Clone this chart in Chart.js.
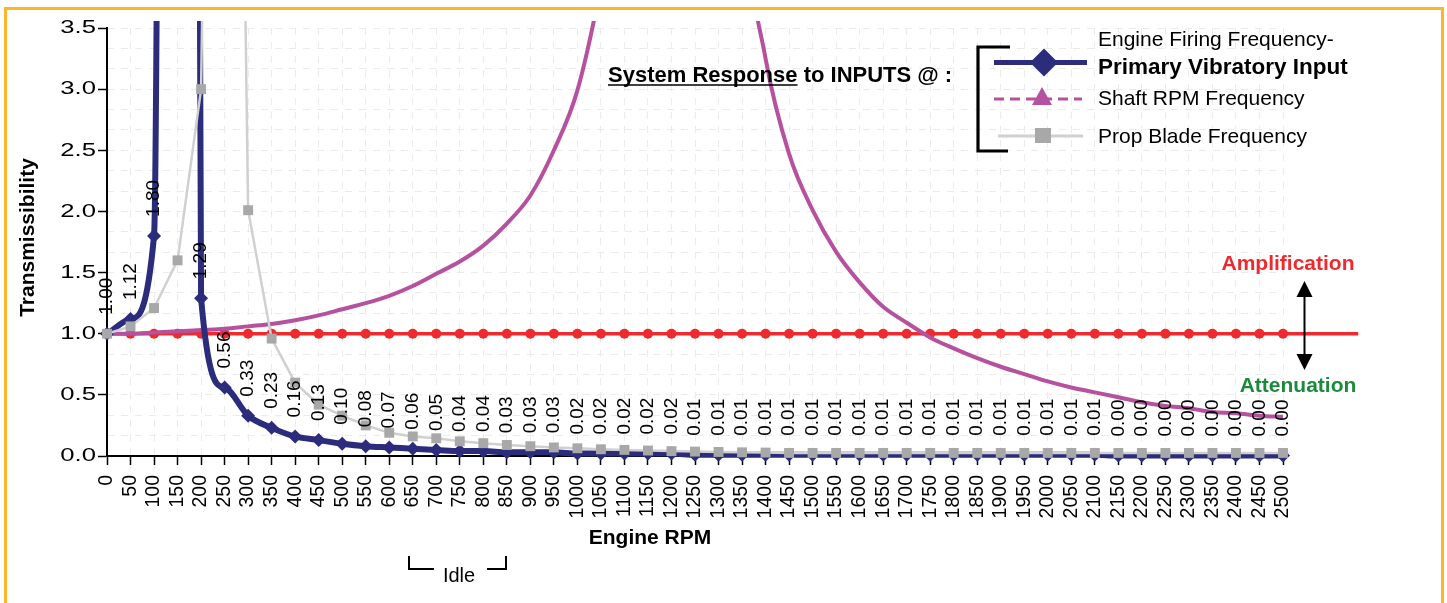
<!DOCTYPE html>
<html><head><meta charset="utf-8">
<script src="https://cdn.jsdelivr.net/npm/chart.js@4.4.1/dist/chart.umd.min.js"></script>
<style>
html,body{margin:0;padding:0;background:#fff;overflow:hidden;}
#wrap{position:relative;width:1447px;height:603px;}
#frame{position:absolute;left:4px;top:7px;width:1434px;height:620px;border:3px solid #FBB72C;}
canvas{position:absolute;left:0;top:0;}
</style></head><body>
<div id="wrap"><div id="frame"></div><canvas id="c" width="1447" height="603"></canvas></div>
<script>
// ---------- DATA ----------
const rpm = [0,50,100,150,200,250,300,350,400,450,500,550,600,650,700,750,800,850,900,950,
  1000,1050,1100,1150,1200,1250,1300,1350,1400,1450,1500,1550,1600,1650,1700,1750,1800,1850,1900,1950,
  2000,2050,2100,2150,2200,2250,2300,2350,2400,2450,2500];

// Engine Firing Frequency - Primary Vibratory Input (150 rpm is off the chart)
const engineFiring = [1.00,1.12,1.80,50,1.29,0.56,0.33,0.23,0.16,0.13,0.10,0.08,0.07,0.06,0.05,0.04,0.04,0.03,0.03,0.03,
  0.02,0.02,0.02,0.02,0.02,0.01,0.01,0.01,0.01,0.01,0.01,0.01,0.01,0.01,0.01,0.01,0.01,0.01,0.01,0.01,
  0.01,0.01,0.01,0.004,0.004,0.004,0.004,0.004,0.004,0.004,0.004];

// Shaft RPM Frequency (1050-1350 rpm are off the chart)
const shaftRpm = [1.00,1.00,1.01,1.02,1.03,1.04,1.06,1.08,1.11,1.15,1.20,1.25,1.31,1.39,1.49,1.59,1.72,1.90,2.13,2.50,
  2.99,3.85,5.0,7.5,15,25,8.5,4.6,3.25,2.47,2.01,1.67,1.42,1.22,1.09,0.97,0.88,0.80,0.73,0.67,
  0.61,0.56,0.52,0.48,0.44,0.41,0.39,0.36,0.35,0.33,0.32];

// Prop Blade Frequency (250 rpm is off the chart)
const propBlade = [1.00,1.06,1.21,1.60,3.00,16,2.01,0.96,0.60,0.42,0.33,0.25,0.19,0.16,0.145,0.12,0.105,0.09,0.08,0.07,
  0.063,0.055,0.05,0.045,0.04,0.036,0.033,0.03,0.028,0.025,0.025,0.025,0.025,0.025,0.025,0.025,0.025,0.025,0.025,0.025,
  0.025,0.025,0.025,0.025,0.025,0.025,0.025,0.025,0.025,0.025,0.025];

// Input reference level (transmissibility = 1.0)
const inputLevel = [1,1,1,1,1,1,1,1,1,1,1,1,1,1,1,1,1,1,1,1,1,1,1,1,1,1,1,1,1,1,1,1,1,1,1,1,1,1,1,1,1,1,1,1,1,1,1,1,1,1,1];
const inputLineEnd = 2660;

const yTickLabels = ['0.0','0.5','1.0','1.5','2.0','2.5','3.0','3.5'];
const legendLabels = ['Engine Firing Frequency-','Primary Vibratory Input','Shaft RPM Frequency','Prop Blade Frequency'];

// ---------- STYLE ----------
const FONT = '"Liberation Sans", Arial, Helvetica, sans-serif';
const NAVY = '#2B2C7C';
const PINK = '#B5519F';
const RED = '#EE2A2E';
const GRAYLINE = '#D0D0D0';
const GRAYPT = '#A8A8A8';
const GREEN = '#1C8A3C';
const clip = {left: 10, top: 7, right: 80, bottom: 10};

const pts = ys => rpm.map((r, i) => ({x: r, y: ys[i]}));
const redPts = rpm.map((r, i) => ({x: r, y: inputLevel[i]})).concat([{x: inputLineEnd, y: 1}]);

const overlay = {
  id: 'overlay',
  afterDatasetsDraw(chart) {
    const {ctx, scales: {y}} = chart;
    const meta = chart.getDatasetMeta(0);
    ctx.save();
    ctx.fillStyle = '#000';
    ctx.font = '19px ' + FONT;
    ctx.textAlign = 'left';
    ctx.textBaseline = 'middle';
    meta.data.forEach((el, i) => {
      const v = engineFiring[i];
      if (v > y.max) return;
      ctx.save();
      ctx.translate(el.x, el.y - 19);
      ctx.rotate(-Math.PI / 2);
      ctx.fillText(v.toFixed(2), 0, 0);
      ctx.restore();
    });
    ctx.restore();
  },
  afterDraw(chart) {
    const {ctx, scales: {y}} = chart;
    ctx.save();
    ctx.fillStyle = '#000';
    // y tick labels (wide lettering)
    ctx.font = '19px ' + FONT;
    ctx.textAlign = 'right';
    ctx.textBaseline = 'middle';
    y.ticks.forEach((t, i) => {
      const py = y.getPixelForValue(t.value);
      ctx.save();
      ctx.translate(y.right - 11, py);
      ctx.scale(1.35, 1);
      ctx.fillText(yTickLabels[i], 0, 0);
      ctx.restore();
    });
    // y axis title
    ctx.save();
    ctx.font = 'bold 21px ' + FONT;
    ctx.textAlign = 'center';
    ctx.translate(28, 237.5);
    ctx.rotate(-Math.PI / 2);
    ctx.fillText('Transmissibility', 0, 0);
    ctx.restore();
    // x axis title
    ctx.font = 'bold 21px ' + FONT;
    ctx.textAlign = 'center';
    ctx.fillText('Engine RPM', 650, 538);
    // Idle bracket
    ctx.strokeStyle = '#000';
    ctx.lineWidth = 2;
    ctx.beginPath();
    ctx.moveTo(409, 556); ctx.lineTo(409, 569); ctx.lineTo(434, 569);
    ctx.moveTo(487, 569); ctx.lineTo(506, 569); ctx.lineTo(506, 556);
    ctx.stroke();
    ctx.font = '20px ' + FONT;
    ctx.fillText('Idle', 459, 576);
    // title
    ctx.textAlign = 'left';
    ctx.font = 'bold 22px ' + FONT;
    ctx.fillText('System Response to INPUTS @ :', 608, 76);
    const uw = ctx.measureText('System Response').width;
    ctx.lineWidth = 1.6;
    ctx.beginPath(); ctx.moveTo(608, 85); ctx.lineTo(608 + uw, 85); ctx.stroke();
    // legend bracket
    ctx.lineWidth = 3.2;
    ctx.lineJoin = 'miter';
    ctx.beginPath();
    ctx.moveTo(1010, 47); ctx.lineTo(978, 47); ctx.lineTo(978, 151); ctx.lineTo(1008, 151);
    ctx.stroke();
    // legend: blue
    ctx.strokeStyle = NAVY; ctx.fillStyle = NAVY; ctx.lineWidth = 5;
    ctx.beginPath(); ctx.moveTo(994, 62.5); ctx.lineTo(1087, 62.5); ctx.stroke();
    ctx.beginPath(); ctx.moveTo(1044, 48.5); ctx.lineTo(1058, 62.5); ctx.lineTo(1044, 76.5); ctx.lineTo(1030, 62.5); ctx.closePath(); ctx.fill();
    // legend: pink dashed
    ctx.strokeStyle = PINK; ctx.fillStyle = PINK; ctx.lineWidth = 3;
    ctx.setLineDash([10, 6]);
    ctx.beginPath(); ctx.moveTo(994, 99); ctx.lineTo(1082, 99); ctx.stroke();
    ctx.setLineDash([]);
    ctx.beginPath(); ctx.moveTo(1042, 87); ctx.lineTo(1052, 105); ctx.lineTo(1032, 105); ctx.closePath(); ctx.fill();
    // legend: gray
    ctx.strokeStyle = GRAYLINE; ctx.lineWidth = 3;
    ctx.beginPath(); ctx.moveTo(998, 136); ctx.lineTo(1083, 136); ctx.stroke();
    ctx.fillStyle = GRAYPT; ctx.fillRect(1035, 128, 16, 15);
    // legend texts
    ctx.fillStyle = '#000';
    ctx.textBaseline = 'middle';
    ctx.font = '21px ' + FONT;
    ctx.fillText(legendLabels[0], 1098, 40.5);
    ctx.font = 'bold 22.5px ' + FONT;
    ctx.fillText(legendLabels[1], 1098, 68);
    ctx.font = '21px ' + FONT;
    ctx.fillText(legendLabels[2], 1098, 99);
    ctx.fillText(legendLabels[3], 1098, 137.5);
    // amplification / attenuation
    ctx.textAlign = 'center';
    ctx.font = 'bold 21px ' + FONT;
    ctx.fillStyle = RED;
    ctx.fillText('Amplification', 1288, 264);
    ctx.fillStyle = GREEN;
    ctx.fillText('Attenuation', 1298, 386);
    ctx.strokeStyle = '#000'; ctx.fillStyle = '#000'; ctx.lineWidth = 2;
    ctx.beginPath(); ctx.moveTo(1304.5, 292); ctx.lineTo(1304.5, 358); ctx.stroke();
    ctx.beginPath(); ctx.moveTo(1304.5, 281); ctx.lineTo(1312.5, 297); ctx.lineTo(1296.5, 297); ctx.closePath(); ctx.fill();
    ctx.beginPath(); ctx.moveTo(1304.5, 370); ctx.lineTo(1312.5, 354); ctx.lineTo(1296.5, 354); ctx.closePath(); ctx.fill();
    ctx.restore();
  }
};

Chart.defaults.font.family = FONT;
Chart.defaults.color = '#000';

new Chart(document.getElementById('c'), {
  type: 'line',
  data: {
    datasets: [
      { label: legendLabels[0] + ' ' + legendLabels[1], data: pts(engineFiring),
        borderColor: NAVY, backgroundColor: NAVY, borderWidth: 6,
        pointStyle: 'rectRot', pointRadius: 7, pointBorderWidth: 0, pointBackgroundColor: NAVY,
        cubicInterpolationMode: 'monotone', tension: 0.4, order: 1, clip },
      { label: legendLabels[2], data: pts(shaftRpm),
        borderColor: PINK, borderWidth: 4, pointRadius: 0,
        cubicInterpolationMode: 'monotone', tension: 0.4, order: 2, clip },
      { label: legendLabels[3], data: pts(propBlade),
        borderColor: GRAYLINE, borderWidth: 2.5,
        pointStyle: 'rect', pointRadius: 7, pointBorderWidth: 0, pointBackgroundColor: GRAYPT,
        tension: 0, order: 0, clip },
      { label: 'Input', data: redPts,
        borderColor: RED, borderWidth: 3.5, backgroundColor: RED,
        pointStyle: 'circle', pointRadius: c => (c.dataIndex < rpm.length ? 5 : 0),
        pointBorderWidth: 0, pointBackgroundColor: RED,
        tension: 0, order: 3, clip }
    ]
  },
  options: {
    responsive: false,
    animation: false,
    events: [],
    layout: { padding: { left: 0, top: 28, right: 164, bottom: 0 } },
    plugins: { legend: { display: false }, tooltip: { enabled: false } },
    scales: {
      x: {
        type: 'linear',
        afterDataLimits: s => { s.min = rpm[0]; s.max = rpm[rpm.length - 1]; },
        afterFit: s => { s.height = 147; },
        ticks: { stepSize: 50, autoSkip: false, minRotation: 90, maxRotation: 90,
          padding: 10, font: { size: 19.5 }, color: '#000',
          callback: v => String(v) },
        grid: { color: '#ebebeb', lineWidth: 1, tickColor: '#000', tickLength: 9, tickWidth: 1.5 },
        border: { color: '#000', width: 2, dash: [7, 7] }
      },
      y: {
        type: 'linear', min: 0, max: 3.5, position: 'left',
        afterFit: s => { s.width = 107; },
        ticks: { stepSize: 0.5, display: false },
        grid: { drawOnChartArea: false, tickColor: '#000', tickLength: 9, tickWidth: 1.5 },
        border: { color: '#000', width: 2 }
      },
      yMinor: {
        type: 'linear', min: 0, max: 21, position: 'left',
        afterFit: s => { s.width = 0; },
        ticks: { stepSize: 1, display: false },
        grid: { color: '#ebebeb', lineWidth: 1, drawTicks: false },
        border: { display: false, dash: [7, 7] }
      }
    }
  },
  plugins: [overlay]
});
</script></body></html>
